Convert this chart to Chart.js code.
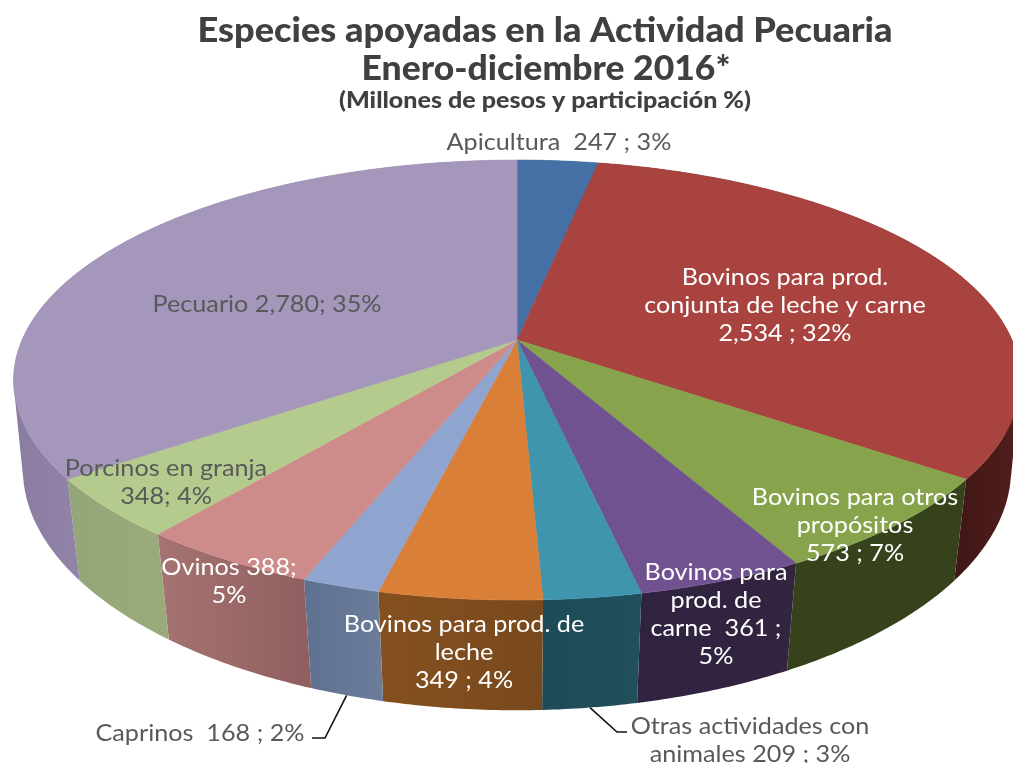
<!DOCTYPE html>
<html lang="es">
<head>
<meta charset="utf-8">
<title>Especies apoyadas en la Actividad Pecuaria</title>
<script src="https://cdn.jsdelivr.net/npm/chart.js@4/dist/chart.umd.min.js"></script>
<style>html,body{margin:0;padding:0;background:#fff}canvas{display:block}</style>
</head>
<body>
<canvas id="c" width="1013" height="763"></canvas>
<script>
// ---- data ----
const categories = ["Apicultura","Bovinos para prod. conjunta de leche y carne","Bovinos para otros propósitos","Bovinos para prod. de carne","Otras actividades con animales","Bovinos para prod. de leche","Caprinos","Ovinos","Porcinos en granja","Pecuario"];
const values = [247,2534,573,361,209,349,168,388,348,2780];
const labelText = [
  ["Apicultura  247 ; 3%"],
  ["Bovinos para prod.","conjunta de leche y carne","2,534 ; 32%"],
  ["Bovinos para otros","propósitos","573 ; 7%"],
  ["Bovinos para","prod. de","carne  361 ;","5%"],
  ["Otras actividades con","animales 209 ; 3%"],
  ["Bovinos para prod. de","leche","349 ; 4%"],
  ["Caprinos  168 ; 2%"],
  ["Ovinos 388;","5%"],
  ["Porcinos en granja","348; 4%"],
  ["Pecuario 2,780; 35%"]
];
const titleLines = ["Especies apoyadas en la Actividad Pecuaria","Enero-diciembre 2016*"];
const subtitleLine = "(Millones de pesos y participación %)";

// ---- styles & layout ----
const topColors = ["#4470a6","#a8433f","#87a44c","#705290","#3f95ae","#d97f38","#8fa5cf","#cd8b89","#b5cb8d","#a596bb"];
const wallColors = [["#2f4f75","#2f4f75"],["#3f1715","#521e1c"],["#36421c","#36421c"],["#2f2340","#33243f"],["#1f4b58","#214f5c"],["#85501f","#78491d"],["#5f7190","#6b7d9a"],["#a57371","#8f5f5f"],["#94a677","#9aab7b"],["#8a7c9f","#9184a8"]];
const labelPos = [[559,142],[785,277],[855,497],[716,572],[750,726],[464,624],[200,733],[229,567],[166,468],[267,304]];
const labelColor = ["#595959","#fff","#fff","#fff","#595959","#fff","#595959","#fff","#595959","#595959"];
const leaders = {4:[[617,732],[627,732]],6:[[325,738],[312,738]]};
const LABEL_FONT = '400 24px Lato, "Open Sans", sans-serif';
const LABEL_STRETCH = 1.05;
const LINE_GAP = 28;
const P = {cx:517,cy:340,rx:495,ry:212.7,k:0.182,drop:91,stretch:1.074};

function topPoint(a){
  const u=Math.cos(a),v=Math.sin(a),w=1-P.k*v;
  return [P.cx+P.rx*u/w,P.cy+P.ry*v/w];
}
function bottomPoint(a){
  const t=topPoint(a),shrink=0.985-0.02*Math.sin(a);
  return [P.cx+(t[0]-P.cx)*shrink,P.cy+P.drop+(t[1]-P.cy)*P.stretch];
}
function arcPts(fn,s,e){
  const n=Math.max(2,Math.ceil((e-s)/0.01)),o=[];
  for(let i=0;i<=n;i++)o.push(fn(s+(e-s)*i/n));
  return o;
}
function stretchedText(ctx,t,x,y,sx){
  ctx.save();ctx.translate(x,y);ctx.scale(sx,1);ctx.fillText(t,0,0);ctx.restore();
}
// Slices keep the angles computed by Chart.js; only their projection is changed.
Chart.ArcElement.prototype.draw=function(ctx){
  const pts=arcPts(topPoint,this.startAngle,this.endAngle);
  ctx.save();
  ctx.beginPath();ctx.moveTo(P.cx,P.cy);
  pts.forEach(p=>ctx.lineTo(p[0],p[1]));
  ctx.closePath();
  ctx.fillStyle=this.options.backgroundColor;
  ctx.strokeStyle=this.options.backgroundColor;
  ctx.lineWidth=0.6;
  ctx.fill();ctx.stroke();
  ctx.restore();
};
const wallPlugin={
  id:'wall',
  beforeDatasetsDraw(chart){
    const ctx=chart.ctx;
    chart.getDatasetMeta(0).data.forEach((arc,i)=>{
      const t=arcPts(topPoint,arc.startAngle,arc.endAngle);
      const b=arcPts(bottomPoint,arc.startAngle,arc.endAngle);
      const vis=t.map((p,j)=>[p,b[j]]).filter(q=>q[0][1]>340);
      const vx=(vis.length?vis.flat():t).map(p=>p[0]);
      const g=ctx.createLinearGradient(Math.min(...vx),0,Math.max(...vx),0);
      g.addColorStop(0,wallColors[i][0]);g.addColorStop(1,wallColors[i][1]);
      ctx.fillStyle=g;ctx.strokeStyle=g;ctx.lineWidth=0.6;
      // one path of equally oriented quads, so that the swept wall fills without seams
      ctx.beginPath();
      for(let j=0;j<t.length-1;j++){
        let q=[t[j],t[j+1],b[j+1],b[j]];
        let area=0;
        q.forEach((p,m)=>{const r=q[(m+1)%4];area+=p[0]*r[1]-r[0]*p[1];});
        if(area<0)q=q.reverse();
        q.forEach((p,m)=>m?ctx.lineTo(p[0],p[1]):ctx.moveTo(p[0],p[1]));
        ctx.closePath();
      }
      ctx.fill('nonzero');
    });
  }
};
const textPlugin={
  id:'texts',
  afterDatasetsDraw(chart){
    const ctx=chart.ctx;
    ctx.save();
    ctx.textAlign='center';ctx.textBaseline='middle';
    // leader lines start at the outer wall edge, at each slice's mid angle
    const arcs=chart.getDatasetMeta(0).data;
    ctx.strokeStyle='#111';ctx.lineWidth=1.6;
    Object.keys(leaders).forEach(k=>{
      const a=arcs[k],s=bottomPoint((a.startAngle+a.endAngle)/2);
      ctx.beginPath();ctx.moveTo(s[0],s[1]);
      leaders[k].forEach(p=>ctx.lineTo(p[0],p[1]));
      ctx.stroke();
    });
    // data labels
    ctx.font=LABEL_FONT;
    labelText.forEach((lines,i)=>{
      ctx.fillStyle=labelColor[i];
      lines.forEach((t,j)=>stretchedText(ctx,t,labelPos[i][0],labelPos[i][1]+j*LINE_GAP,LABEL_STRETCH));
    });
    // titles
    ctx.fillStyle='#404040';
    ctx.font='900 34px Lato, sans-serif';
    const w0=ctx.measureText(titleLines[0]).width, w1=ctx.measureText(titleLines[1]).width;
    stretchedText(ctx,titleLines[0],545,31,695/w0);
    stretchedText(ctx,titleLines[1],546,69,369/w1);
    ctx.font='900 22px Lato, sans-serif';
    stretchedText(ctx,subtitleLine,545,101,412/ctx.measureText(subtitleLine).width);
    ctx.restore();
  }
};
new Chart(document.getElementById('c'),{
  type:'pie',
  data:{labels:categories,datasets:[{data:values,backgroundColor:topColors,borderWidth:0,clip:false}]},
  options:{
    responsive:false,animation:false,
    plugins:{legend:{display:false},tooltip:{enabled:false},title:{display:false}},
    layout:{padding:0}
  },
  plugins:[wallPlugin,textPlugin]
});
</script>
</body>
</html>
